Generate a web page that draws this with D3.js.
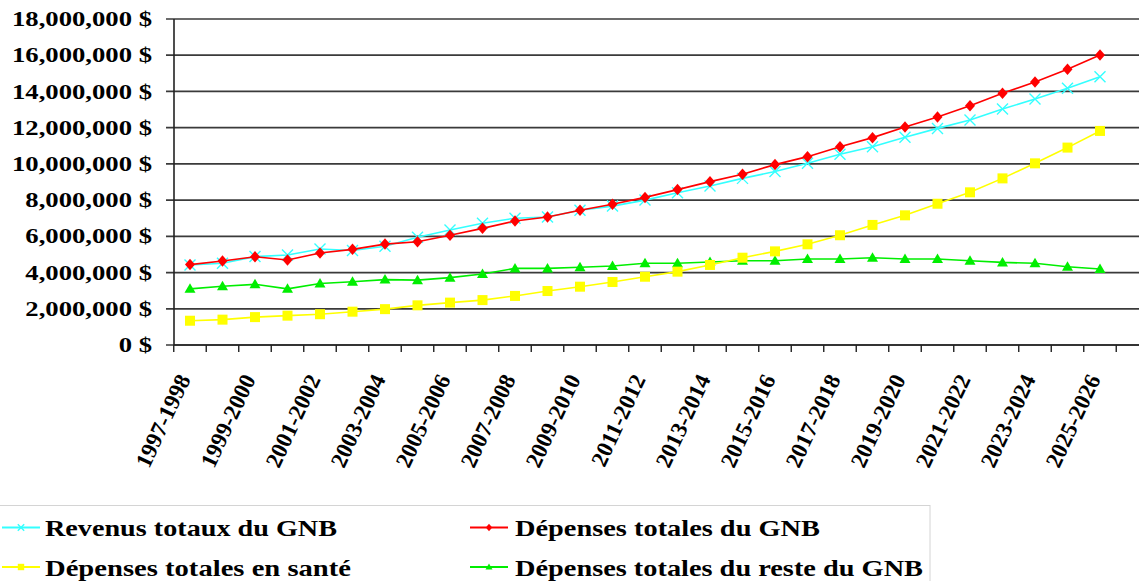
<!DOCTYPE html>
<html>
<head>
<meta charset="utf-8">
<script src="https://cdn.jsdelivr.net/npm/d3@7"></script>
<style>
  html, body { margin: 0; padding: 0; background: #fff; }
  svg { display: block; }
  text { font-family: "Liberation Serif", "Times New Roman", serif; font-weight: bold; fill: #000; }
</style>
</head>
<body>
<svg id="chart" width="1139" height="581"></svg>
<script>
const categories = ["1997-1998","1998-1999","1999-2000","2000-2001","2001-2002","2002-2003","2003-2004","2004-2005","2005-2006","2006-2007","2007-2008","2008-2009","2009-2010","2010-2011","2011-2012","2012-2013","2013-2014","2014-2015","2015-2016","2016-2017","2017-2018","2018-2019","2019-2020","2020-2021","2021-2022","2022-2023","2023-2024","2024-2025","2025-2026"];
const labeledCategories = ["1997-1998","1999-2000","2001-2002","2003-2004","2005-2006","2007-2008","2009-2010","2011-2012","2013-2014","2015-2016","2017-2018","2019-2020","2021-2022","2023-2024","2025-2026"];
const yTickValues = [0, 2000000, 4000000, 6000000, 8000000, 10000000, 12000000, 14000000, 16000000, 18000000];

const revenusTotaux = [4420000,4510000,4880000,4970000,5300000,5220000,5450000,5950000,6350000,6720000,7000000,7070000,7440000,7670000,8000000,8410000,8780000,9200000,9580000,10030000,10530000,10950000,11470000,11960000,12420000,13030000,13580000,14170000,14810000];
const depensesTotales = [4440000,4640000,4870000,4690000,5080000,5280000,5570000,5700000,6060000,6440000,6850000,7070000,7440000,7770000,8150000,8580000,9020000,9430000,9960000,10400000,10950000,11450000,12040000,12590000,13210000,13900000,14520000,15220000,16010000];
const depensesSante = [1340000,1400000,1540000,1620000,1700000,1840000,1980000,2190000,2340000,2480000,2710000,2980000,3220000,3480000,3770000,4050000,4420000,4820000,5170000,5560000,6060000,6630000,7160000,7800000,8430000,9200000,10030000,10900000,11820000];
const depensesReste = [3100000,3240000,3350000,3100000,3400000,3490000,3610000,3580000,3720000,3920000,4230000,4230000,4290000,4360000,4510000,4510000,4580000,4650000,4650000,4750000,4750000,4820000,4750000,4750000,4650000,4560000,4510000,4320000,4200000];

const seriesNames = ["Revenus totaux du GNB","Dépenses totales du GNB","Dépenses totales en santé","Dépenses totales du reste du GNB"];
const seriesColors = ["#33ffff","#ff0000","#ffff00","#00ee00"];

const svg = d3.select("#chart");
const X0 = 173.75, X1 = 1116.25, YTOP = 19, YBOT = 345, RIGHT = 1139;
const SX = 1.27;

const x = d3.scaleBand().domain(categories).range([X0, X1]).padding(0);
const cx = c => x(c) + x.bandwidth() / 2;
const y = d3.scaleLinear().domain([0, 18000000]).range([YBOT, YTOP]);

// gridlines
svg.append("g").selectAll("line").data(yTickValues).join("line")
  .attr("x1", 166).attr("x2", RIGHT)
  .attr("y1", d => y(d)).attr("y2", d => y(d))
  .attr("stroke", "#3a3a3a").attr("stroke-width", 1.7);

// y axis line
svg.append("line").attr("x1", 174).attr("x2", 174).attr("y1", YTOP).attr("y2", YBOT)
  .attr("stroke", "#222").attr("stroke-width", 1.6);

// y labels
const fmt = d3.format(",");
svg.append("g").selectAll("text").data(yTickValues).join("text")
  .attr("transform", d => `translate(152,${y(d)}) scale(${SX},1)`)
  .attr("text-anchor", "end").attr("dy", "0.34em")
  .style("font-size", "21px")
  .text(d => fmt(d) + " $");

// x axis line + ticks
svg.append("line").attr("x1", 174).attr("x2", RIGHT).attr("y1", YBOT).attr("y2", YBOT)
  .attr("stroke", "#222").attr("stroke-width", 1.6);
const boundaries = categories.map(c => x(c)).concat([X1]);
svg.append("g").selectAll("line").data(boundaries).join("line")
  .attr("x1", d => d).attr("x2", d => d).attr("y1", YBOT).attr("y2", YBOT + 7)
  .attr("stroke", "#222").attr("stroke-width", 1.4);

// x labels
svg.append("g").selectAll("text").data(labeledCategories).join("text")
  .attr("transform", d => `translate(${cx(d) + 1},379) rotate(-65)`)
  .attr("text-anchor", "end")
  .style("font-size", "23px")
  .text(d => d);

// markers
function marker(g, type, color, s) {
  if (type === 0) {
    g.append("path").attr("d", `M${-s},${-s}L${s},${s}M${-s},${s}L${s},${-s}`)
      .attr("stroke", color).attr("stroke-width", 1.4).attr("fill", "none");
  } else if (type === 1) {
    g.append("path").attr("d", `M0,${-s*1.15}L${s},0L0,${s*1.15}L${-s},0Z`).attr("fill", color);
  } else if (type === 2) {
    g.append("rect").attr("x", -s).attr("y", -s).attr("width", 2*s).attr("height", 2*s).attr("fill", color);
  } else {
    g.append("path").attr("d", `M0,${-s*1.1}L${s*1.1},${s*0.8}L${-s*1.1},${s*0.8}Z`).attr("fill", color);
  }
}

const allSeries = [revenusTotaux, depensesTotales, depensesReste, depensesSante];
const seriesIdx = [0, 1, 3, 2];
const line = d3.line().x((d, i) => cx(categories[i])).y(d => y(d));
allSeries.forEach((vals, k) => {
  const si = seriesIdx[k];
  const g = svg.append("g");
  g.append("path").attr("d", line(vals)).attr("fill", "none")
    .attr("stroke", seriesColors[si]).attr("stroke-width", 1.6);
  vals.forEach((v, i) => {
    const mg = g.append("g").attr("transform", `translate(${cx(categories[i])},${y(v)})`);
    marker(mg, si, seriesColors[si], si === 0 ? 5.5 : 5);
  });
});

// legend
svg.append("rect").attr("x", -1).attr("y", 505.5).attr("width", 931).attr("height", 100)
  .attr("fill", "none").attr("stroke", "#d4d4d4").attr("stroke-width", 1);
const legendPos = [
  {lx: 2, ly: 527.5, tx: 45, tl: 292},
  {lx: 470, ly: 527.5, tx: 515, tl: 305},
  {lx: 2, ly: 567, tx: 45, tl: 306},
  {lx: 470, ly: 567, tx: 515, tl: 408}
];
seriesNames.forEach((name, i) => {
  const p = legendPos[i];
  const g = svg.append("g");
  g.append("line").attr("x1", p.lx).attr("x2", p.lx + 38).attr("y1", p.ly).attr("y2", p.ly)
    .attr("stroke", seriesColors[i]).attr("stroke-width", 2);
  const mg = g.append("g").attr("transform", `translate(${p.lx + 19},${p.ly})`);
  marker(mg, i, seriesColors[i], 3.2);
  g.append("text").attr("x", p.tx).attr("y", p.ly + 8.5)
    .attr("textLength", p.tl).attr("lengthAdjust", "spacingAndGlyphs")
    .style("font-size", "23px").text(name);
});
</script>
</body>
</html>
